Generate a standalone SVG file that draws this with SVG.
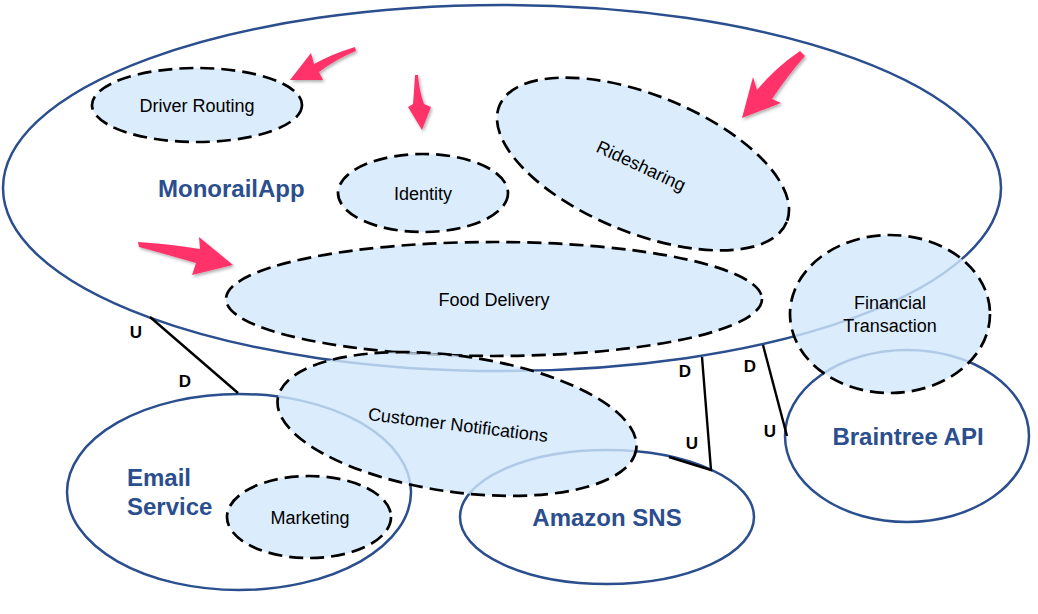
<svg xmlns="http://www.w3.org/2000/svg" width="1038" height="614" viewBox="0 0 1038 614">
<style>
.ctx{fill:none;stroke:#2b4e8e;stroke-width:2.5}
.sub{fill:#d2e8fc;fill-opacity:0.8;stroke:#000;stroke-width:2.7;stroke-dasharray:14 7}
.big{font-family:"Liberation Sans",Arial,sans-serif;font-weight:bold;font-size:24px;fill:#2b4e8e}
.lbl{font-family:"Liberation Sans",Arial,sans-serif;font-size:18px;fill:#000;text-anchor:middle}
.ud{font-family:"Liberation Sans",Arial,sans-serif;font-weight:bold;font-size:17px;fill:#000;text-anchor:middle}
.con{fill:none;stroke:#000;stroke-width:2.4}
.arr{fill:#ff3369;filter:url(#sh)}
</style>
<defs>
<filter id="sh" x="-20%" y="-20%" width="150%" height="150%">
<feDropShadow dx="1.5" dy="2" stdDeviation="1.5" flood-color="#000" flood-opacity="0.3"/>
</filter>
</defs>
<rect width="1038" height="614" fill="#fff"/>
<g id="monorail-app">
<ellipse class="ctx" cx="502" cy="188" rx="499" ry="183"/>
<text class="big" x="158" y="197">MonorailApp</text>
</g>
<g id="email-service">
<ellipse class="ctx" cx="239" cy="492" rx="172" ry="98"/>
<text class="big" x="127" y="486">Email</text>
<text class="big" x="127" y="515">Service</text>
</g>
<g id="amazon-sns">
<ellipse class="ctx" cx="607" cy="517" rx="147" ry="67"/>
<text class="big" x="607" y="526" text-anchor="middle">Amazon SNS</text>
</g>
<g id="braintree-api">
<ellipse class="ctx" cx="907" cy="436" rx="122" ry="86"/>
<text class="big" x="908" y="445" text-anchor="middle">Braintree API</text>
</g>
<g id="connectors">
<line class="con" x1="150" y1="317" x2="238" y2="393"/>
<polyline class="con" points="702,357 711,470 669,457"/>
<line class="con" x1="763" y1="345" x2="787" y2="436"/>
<text class="ud" x="136" y="338">U</text>
<text class="ud" x="185" y="387">D</text>
<text class="ud" x="685" y="377">D</text>
<text class="ud" x="692" y="449">U</text>
<text class="ud" x="750" y="372">D</text>
<text class="ud" x="770" y="437">U</text>
</g>
<g id="driver-routing">
<ellipse class="sub" cx="197" cy="105" rx="105" ry="37"/>
<text class="lbl" x="197" y="112">Driver Routing</text>
</g>
<g id="identity">
<ellipse class="sub" cx="423" cy="193" rx="85" ry="39"/>
<text class="lbl" x="423" y="200">Identity</text>
</g>
<g id="ridesharing">
<ellipse class="sub" cx="643" cy="164" rx="155" ry="69" transform="rotate(22 643 164)"/>
<text class="lbl" x="641" y="172" transform="rotate(25 641 166)">Ridesharing</text>
</g>
<g id="food-delivery">
<ellipse class="sub" cx="494" cy="299" rx="268" ry="57"/>
<text class="lbl" x="494" y="306">Food Delivery</text>
</g>
<g id="financial-transaction">
<ellipse class="sub" cx="890" cy="314" rx="100" ry="79"/>
<text class="lbl" x="890" y="309">Financial</text>
<text class="lbl" x="890" y="332">Transaction</text>
</g>
<g id="customer-notifications">
<ellipse class="sub" cx="457" cy="424" rx="181" ry="68" transform="rotate(8 457 424)"/>
<text class="lbl" x="458" y="431" transform="rotate(7 458 425)">Customer Notifications</text>
</g>
<g id="marketing">
<ellipse class="sub" cx="309" cy="517" rx="82" ry="41"/>
<text class="lbl" x="310" y="524">Marketing</text>
</g>
<g id="highlights">
<path class="arr" d="M355,47 Q332,54 314,64 L311,53 L290,80 L323,80 L319,72 Q336,59 356,51 Z"/>
<path class="arr" d="M415,75 Q414,92 413,104 L408,107 L422,130 L431,107 L424,104 Q419,90 418,75 Z"/>
<path class="arr" d="M800,51 Q775,68 757,90 L753,77 L742,118 L781,103 L772,99 Q788,75 805,56 Z"/>
<path class="arr" d="M138,242 Q170,244 200,249 L199,237 L233,265 L192,275 L196,263 Q165,254 139,247 Z"/>
</g>
</svg>
